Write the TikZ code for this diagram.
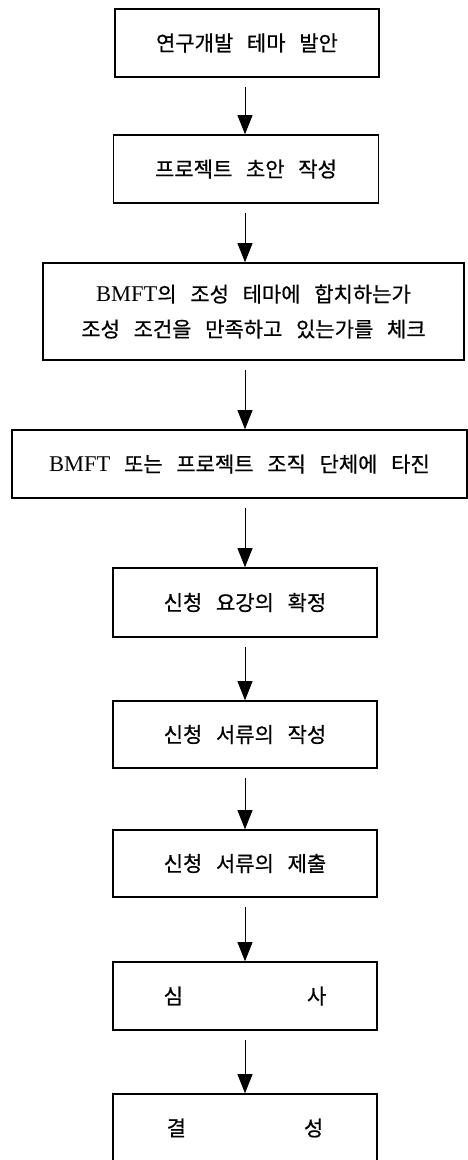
\documentclass[tikz,border=0pt]{standalone}
\usepackage{fontspec}
\setmainfont{Liberation Serif}
\newfontfamily\krfont[FakeBold=0.6]{Noto Sans CJK KR}
\usetikzlibrary{arrows.meta}
\newcommand\myboxfont{\krfont\fontsize{21}{35}\selectfont\spaceskip=0.65em plus 0pt minus 0pt\relax}
\tikzset{
  stepbox/.style={draw=black, line width=1.6pt, rectangle, inner sep=0pt, align=center,
    font=\myboxfont},
  arr/.style={draw=black, line width=0.7pt, shorten <=9pt,
    -{Triangle[width=15pt,length=19pt]}}
}
\begin{document}
\begin{tikzpicture}[x=1pt,y=-1pt]
\useasboundingbox (0,0) rectangle (468,1160);
\fill[white] (0,0) rectangle (468,1160);
\node[stepbox, minimum width=264pt, minimum height=68pt] (b1) at (247,43) {연구개발 테마 발안};
\node[stepbox, minimum width=265pt, minimum height=68pt] (b2) at (246,169) {프로젝트 초안 작성};
\node[stepbox, minimum width=421pt, minimum height=97pt] (b3) at (253.5,311.5)
  {{\rmfamily\fontsize{22.5}{35}\selectfont BMFT}의 조성 테마에 합치하는가\\조성 조건을 만족하고 있는가를 체크};
\node[stepbox, minimum width=455pt, minimum height=68pt] (b4) at (239.5,464)
  {{\rmfamily\fontsize{22.5}{35}\selectfont BMFT} 또는 프로젝트 조직 단체에 타진};
\node[stepbox, minimum width=264pt, minimum height=69pt] (b5) at (245,602.5) {신청 요강의 확정};
\node[stepbox, minimum width=264pt, minimum height=67pt] (b6) at (245,734.5) {신청 서류의 작성};
\node[stepbox, minimum width=264pt, minimum height=67pt] (b7) at (245,863.5) {신청 서류의 제출};
\node[stepbox, minimum width=264pt, minimum height=68pt] (b8) at (245,996) {심\hspace{124pt}사};
\node[stepbox, minimum width=264pt, minimum height=68pt] (b9) at (245,1128) {결\hspace{118pt}성};
\draw[arr] (b1.south -| b5.south) -- (b2.north -| b5.south);
\draw[arr] (b2.south -| b5.south) -- (b3.north -| b5.south);
\draw[arr] (b3.south -| b5.south) -- (b4.north -| b5.south);
\draw[arr] (b4.south -| b5.south) -- (b5.north);
\draw[arr] (b5.south) -- (b6.north);
\draw[arr] (b6.south) -- (b7.north);
\draw[arr] (b7.south) -- (b8.north);
\draw[arr] (b8.south) -- (b9.north);
\end{tikzpicture}
\end{document}
